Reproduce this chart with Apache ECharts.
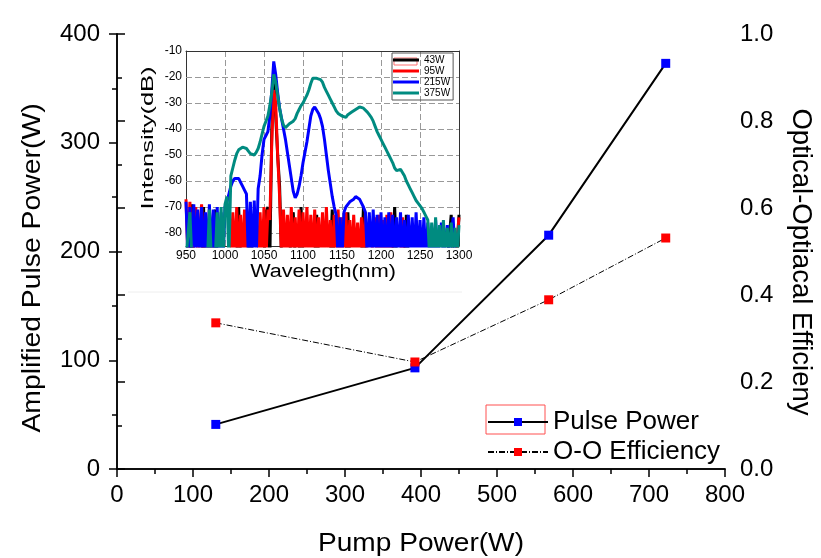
<!DOCTYPE html>
<html>
<head>
<meta charset="utf-8">
<script src="https://cdn.jsdelivr.net/npm/echarts@6/dist/echarts.min.js"></script>
<style>
  html, body { margin: 0; padding: 0; background: #fff; }
  #main { width: 821px; height: 558px; }
</style>
</head>
<body>
<div id="main"></div>
<script>
// main plot
const pumpPower = [130, 392, 568, 722];
const pulsePower = [41, 93, 215, 373];
const ooEfficiency = [0.336, 0.246, 0.389, 0.531];

// inset spectra (dB), one value per wavelength; -90 = below the plotted floor
const wavelengths = [
  950, 952.5, 955, 957.5, 960, 962.5, 965, 967.5, 970, 972.5,
  975, 977.5, 980, 982.5, 985, 987.5, 990, 992.5, 995, 997.5,
  1000, 1002.5, 1005, 1007.5, 1010, 1012.5, 1015, 1017.5, 1020, 1022.5,
  1025, 1027.5, 1030, 1032.5, 1035, 1037.5, 1040, 1042.5, 1045, 1047.5,
  1050, 1052.5, 1055, 1057.5, 1060, 1062.5, 1065, 1067.5, 1070, 1072.5,
  1075, 1077.5, 1080, 1082.5, 1085, 1087.5, 1090, 1092.5, 1095, 1097.5,
  1100, 1102.5, 1105, 1107.5, 1110, 1112.5, 1115, 1117.5, 1120, 1122.5,
  1125, 1127.5, 1130, 1132.5, 1135, 1137.5, 1140, 1142.5, 1145, 1147.5,
  1150, 1152.5, 1155, 1157.5, 1160, 1162.5, 1165, 1167.5, 1170, 1172.5,
  1175, 1177.5, 1180, 1182.5, 1185, 1187.5, 1190, 1192.5, 1195, 1197.5,
  1200, 1202.5, 1205, 1207.5, 1210, 1212.5, 1215, 1217.5, 1220, 1222.5,
  1225, 1227.5, 1230, 1232.5, 1235, 1237.5, 1240, 1242.5, 1245, 1247.5,
  1250, 1252.5, 1255, 1257.5, 1260, 1262.5, 1265, 1267.5, 1270, 1272.5,
  1275, 1277.5, 1280, 1282.5, 1285, 1287.5, 1290, 1292.5, 1295, 1297.5,
  1300
];
const spec43W = [
  -90,-90,-90,-69,-90,-90,-90,-90,-90,-70,
  -90,-90,-90,-90,-90,-71,-90,-90,-90,-90,
  -90,-90,-90,-90,-90,-90,-90,-70,-90,-90,
  -90,-90,-90,-71,-90,-90,-90,-90,-90,-90,
  -90,-72,-70,-90,-40,-20,-35,-50,-62,-90,
  -90,-90,-90,-90,-90,-72,-90,-90,-90,-70,
  -90,-90,-90,-90,-90,-90,-90,-73,-90,-90,
  -90,-90,-90,-90,-90,-71,-90,-90,-90,-90,
  -90,-90,-90,-72,-90,-90,-90,-90,-90,-90,
  -90,-70,-90,-90,-90,-90,-90,-90,-90,-90,
  -90,-90,-90,-90,-90,-90,-90,-70,-90,-90,
  -90,-90,-90,-73,-90,-90,-90,-90,-90,-90,
  -90,-90,-90,-90,-90,-90,-90,-90,-90,-90,
  -90,-90,-90,-90,-90,-90,-73,-90,-90,-90,
  -73
];
const spec95W = [
  -67,-90,-68,-90,-90,-70,-90,-90,-69,-90,
  -90,-90,-71,-90,-90,-90,-90,-90,-90,-90,
  -90,-90,-90,-90,-72,-90,-70,-90,-73,-90,
  -71,-90,-90,-90,-90,-90,-90,-90,-72,-90,
  -70,-90,-71,-75,-45,-25,-30,-50,-66,-90,
  -71,-90,-73,-90,-70,-90,-74,-90,-71,-90,
  -72,-90,-70,-90,-73,-90,-71,-90,-74,-90,
  -72,-90,-70,-90,-75,-90,-73,-90,-71,-90,
  -74,-90,-72,-90,-75,-90,-73,-90,-76,-90,
  -74,-90,-72,-90,-90,-90,-90,-74,-90,-73,
  -90,-75,-90,-73,-90,-72,-90,-90,-90,-90,
  -90,-74,-90,-90,-90,-90,-90,-90,-90,-90,
  -90,-90,-90,-90,-90,-90,-90,-90,-90,-90,
  -90,-90,-90,-90,-90,-90,-90,-90,-90,-90,
  -74
];
const spec215W = [
  -68,-90,-70,-90,-69,-88,-71,-90,-70,-90,
  -72,-90,-69,-90,-71,-90,-70,-90,-72,-90,
  -70,-68,-65,-62,-60,-59,-58.5,-59,-60.5,-62,
  -63.5,-65,-90,-68,-90,-67.5,-90,-63,-58,-50,
  -44,-42.5,-41,-35,-25,-14,-19,-26,-32,-36,
  -40,-44,-49,-54,-59,-64,-66.5,-65,-62,-58,
  -53,-49,-45,-40,-35,-32.5,-31.5,-32,-34,-36,
  -39,-44,-50,-56,-61,-66,-70,-73,-90,-74,
  -90,-72,-70,-69,-68,-67.5,-67,-66,-66,-67,
  -68.5,-70,-72,-90,-72,-90,-71,-90,-73,-90,
  -72,-90,-74,-90,-72,-90,-73,-90,-74,-90,
  -72,-90,-75,-90,-73,-90,-74,-90,-72,-90,
  -75,-90,-74,-90,-76,-90,-78,-90,-75,-90,
  -90,-76,-90,-90,-77,-90,-90,-74,-90,-90,
  -90
];
const spec375W = [
  -90,-90,-72,-90,-90,-90,-90,-90,-90,-90,
  -90,-90,-71,-90,-90,-90,-72,-90,-70,-90,
  -69,-66,-90,-58,-55,-52,-49.5,-48,-47.5,-47,
  -47,-47.5,-48.5,-49.5,-50,-50,-49,-47.5,-45,-42,
  -39,-37,-35,-31,-26,-19,-22,-27,-32,-36,
  -38.5,-39.5,-39,-38,-37.5,-37,-36,-34,-32.5,-31,
  -30,-28.5,-27,-25,-22.5,-20.5,-20,-20.5,-21,-21,
  -22,-24,-25.5,-27,-28.5,-30,-31.5,-33,-34,-34.5,
  -35,-35.5,-35.5,-34.5,-34,-33.5,-33,-32.5,-32,-31.5,
  -31.5,-32,-32.5,-33.5,-34.5,-35.5,-37,-39,-41,-42.5,
  -44,-45.5,-47,-48.5,-50,-51.5,-53,-55,-56,-55.5,
  -55.5,-56,-58,-60,-61.5,-63,-64.5,-66,-67.5,-68.5,
  -69,-70.5,-72,-73.5,-75,-90,-76,-90,-74,-90,
  -77,-90,-75,-90,-78,-90,-76,-90,-78,-90,
  -77
];
const insetYTicks = [-10, -20, -30, -40, -50, -60, -70, -80];

const font = "'Liberation Sans', Arial, sans-serif";

const pair = (xs, ys) => xs.map((x, i) => [x, ys[i]]);

const specSeries = (name, color, values, extra) => Object.assign({
    name: name,
    type: 'line',
    xAxisIndex: 2,
    yAxisIndex: 2,
    data: pair(wavelengths, values),
    symbol: 'none',
    clip: true,
    z: 3,
    lineStyle: {color: color, width: 3},
    itemStyle: {color: color}
}, extra || {});

// axis title drawn as text, stretched a bit along its length like the original
const axisTitle = (text, x, y, size, rotation, stretch) => ({
    type: 'text', x: x, y: y, rotation: rotation, scaleX: stretch, silent: true,
    style: {text: text, font: size + "px 'Liberation Sans', Arial", fill: '#000', align: 'center', verticalAlign: 'middle'}
});

const blackAxis = {lineStyle: {color: '#000', width: 1.5}};
const blackTick = {length: 8, lineStyle: {color: '#000', width: 1.5}};
const blackMinor = {show: true, splitNumber: 2, length: 5, lineStyle: {color: '#000', width: 1.5}};

let chart = echarts.init(document.getElementById('main'));

let option = {
    animation: false,
    textStyle: {fontFamily: font, color: '#000'},
    grid: [
        {left: 117, right: 96, top: 34, bottom: 89},
        {left: 186, right: 362, top: 51, bottom: 312}
    ],
    legend: [
        {
            orient: 'vertical',
            left: 482,
            top: 404,
            itemWidth: 60,
            itemHeight: 10,
            itemGap: 4,
            textStyle: {fontSize: 26, fontFamily: font, color: '#000'},
            data: ['Pulse Power', 'O-O Efficiency']
        },
        {
            orient: 'vertical',
            left: 392,
            top: 53,
            padding: [2, 3, 2, 1],
            icon: 'rect',
            itemWidth: 26,
            itemHeight: 3,
            itemGap: 1,
            borderColor: '#555',
            borderWidth: 1,
            textStyle: {fontSize: 10, fontFamily: font, color: '#000'},
            data: ['43W', '95W', '215W', '375W']
        }
    ],
    xAxis: [
        {
            gridIndex: 0, type: 'value', min: 0, max: 800, interval: 100,
            axisLine: blackAxis, axisTick: blackTick, minorTick: blackMinor,
            axisLabel: {fontSize: 24, fontFamily: font, color: '#000', margin: 14},
            splitLine: {show: false}
        },
        {
            gridIndex: 0, type: 'value', min: 0, max: 800, position: 'top',
            axisLine: blackAxis,
            axisTick: {show: false}, axisLabel: {show: false}, splitLine: {show: false}
        },
        {
            gridIndex: 1, type: 'value', min: 950, max: 1300, interval: 50,
            axisLine: {lineStyle: {color: '#333', width: 1}},
            axisTick: {show: false},
            axisLabel: {fontSize: 12, fontFamily: font, color: '#000', margin: 4, formatter: v => String(v)},
            splitLine: {show: true, lineStyle: {color: '#999', type: [6, 3], width: 1}}
        },
        {
            gridIndex: 1, type: 'value', min: 950, max: 1300, position: 'top',
            axisLine: {lineStyle: {color: '#333', width: 1}},
            axisTick: {show: false}, axisLabel: {show: false}, splitLine: {show: false}
        }
    ],
    yAxis: [
        {
            gridIndex: 0, type: 'value', min: 0, max: 400, interval: 100,
            axisLine: blackAxis, axisTick: blackTick, minorTick: blackMinor,
            axisLabel: {fontSize: 24, fontFamily: font, color: '#000', margin: 17},
            splitLine: {show: false}
        },
        {
            gridIndex: 0, type: 'value', min: 0, max: 1, interval: 0.2, position: 'right',
            axisLine: Object.assign({show: true}, blackAxis),
            axisTick: Object.assign({show: true}, blackTick), minorTick: blackMinor,
            axisLabel: {fontSize: 24, fontFamily: font, color: '#000', margin: 15, formatter: v => v.toFixed(1)},
            splitLine: {show: false}
        },
        {
            gridIndex: 1, type: 'value', min: -85, max: -10, interval: 5,
            axisLine: {show: true, lineStyle: {color: '#333', width: 1}},
            axisTick: {show: false},
            axisLabel: {
                fontSize: 12, fontFamily: font, color: '#000', margin: 4,
                formatter: v => insetYTicks.indexOf(v) >= 0 ? String(v) : ''
            },
            splitLine: {show: false}
        },
        {
            gridIndex: 1, type: 'value', min: -85, max: -10, position: 'right',
            axisLine: {show: true, lineStyle: {color: '#333', width: 1}},
            axisTick: {show: false}, axisLabel: {show: false}, splitLine: {show: false}
        }
    ],
    series: [
        {
            name: 'Pulse Power',
            type: 'line',
            xAxisIndex: 0,
            yAxisIndex: 0,
            data: pair(pumpPower, pulsePower),
            symbol: 'rect',
            symbolSize: 9,
            lineStyle: {color: '#000', width: 2},
            itemStyle: {color: '#0000ff'}
        },
        {
            name: 'O-O Efficiency',
            type: 'line',
            xAxisIndex: 0,
            yAxisIndex: 1,
            data: pair(pumpPower, ooEfficiency),
            symbol: 'rect',
            symbolSize: 9,
            lineStyle: {color: '#000', width: 1, type: [6, 2, 1, 2]},
            itemStyle: {color: '#ff0000'}
        },
        specSeries('43W', '#000000', spec43W, {
            markLine: {
                silent: true,
                z: 1,
                symbol: 'none',
                label: {show: false},
                lineStyle: {color: '#999', type: [6, 3], width: 1},
                data: insetYTicks.slice(1).map(v => ({yAxis: v}))
            }
        }),
        specSeries('95W', '#ff0000', spec95W),
        specSeries('215W', '#0000ff', spec215W),
        specSeries('375W', '#008b80', spec375W)
    ],
    graphic: [
        axisTitle('Amplified Pulse Power(W)', 33, 268, 26, Math.PI / 2, 1.09),
        axisTitle('Optical-Optiacal Efficieny', 800, 262, 27, -Math.PI / 2, 1.02),
        axisTitle('Pump Power(W)', 421, 544, 26, 0, 1.08),
        axisTitle('Intensity(dB)', 148, 138, 17, Math.PI / 2, 1.5),
        axisTitle('Wavelegth(nm)', 323, 272, 18, 0, 1.2),
        {type: 'line', shape: {x1: 128, y1: 292, x2: 462, y2: 292}, style: {stroke: '#eeeeee', lineWidth: 1}, silent: true},
        {type: 'rect', shape: {x: 486, y: 405, width: 59, height: 29}, style: {fill: 'none', stroke: '#ff5050', lineWidth: 1}, silent: true},
        {type: 'rect', shape: {x: 394, y: 58, width: 23, height: 7}, style: {fill: 'none', stroke: '#ff7070', lineWidth: 1}, silent: true}
    ]
};

chart.setOption(option);
</script>
</body>
</html>
